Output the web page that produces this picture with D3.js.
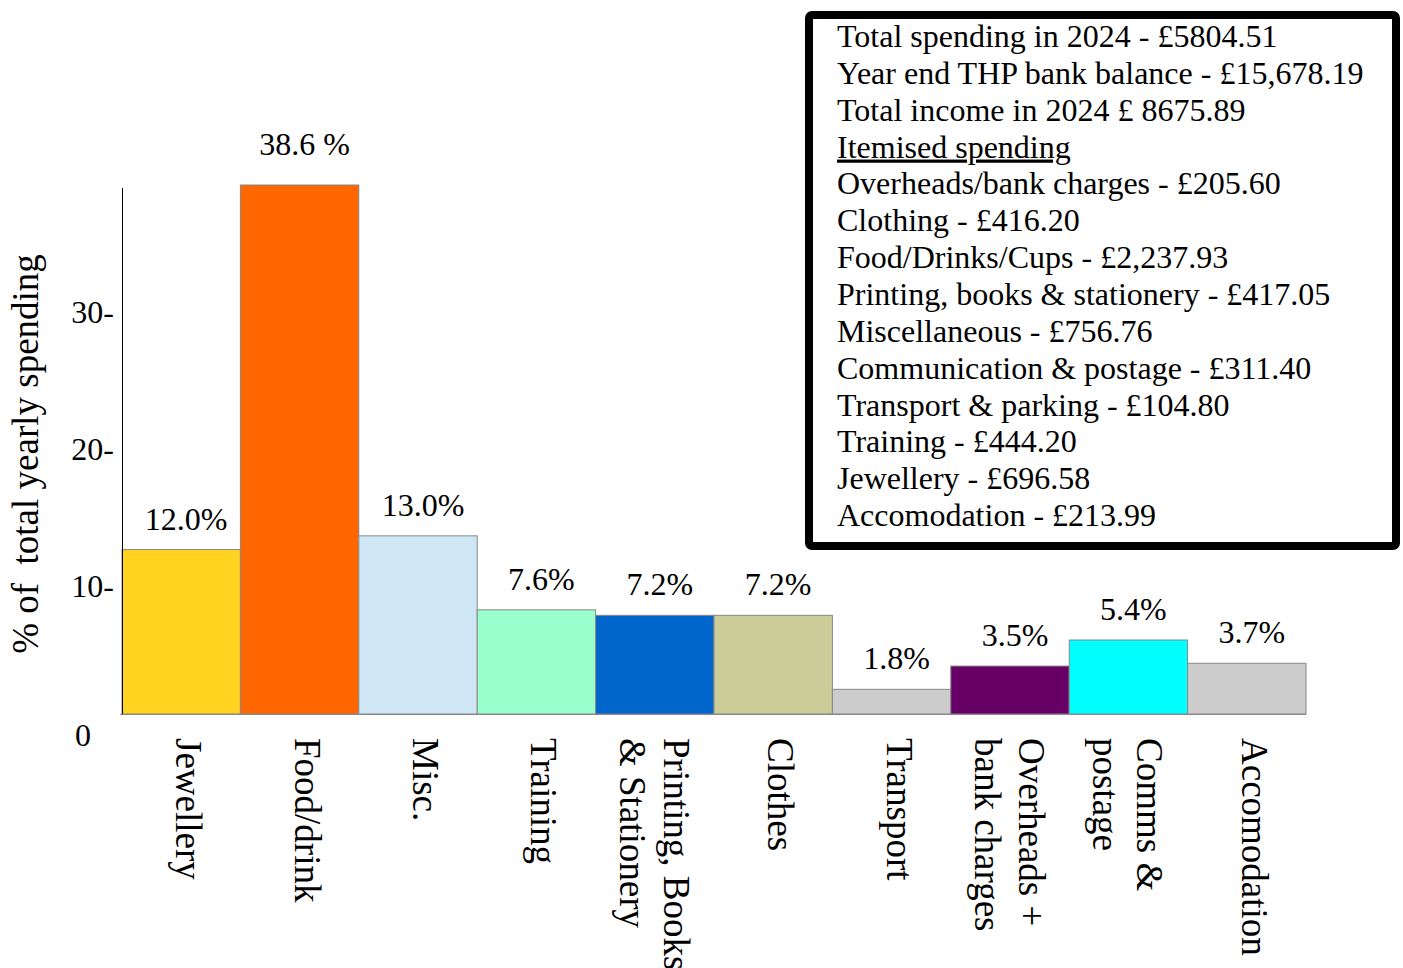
<!DOCTYPE html>
<html>
<head>
<meta charset="utf-8">
<script src="https://cdn.jsdelivr.net/npm/d3@7"></script>
<style>
  html, body { margin: 0; padding: 0; background: #fff; }
  svg { display: block; font-family: "Liberation Serif", "DejaVu Serif", serif; }
</style>
</head>
<body>
<div id="chart"></div>
<script>
// categories (bar order), values in % of yearly spending
const categories = ['Jewellery', 'Food/drink', 'Misc.', 'Training', 'Printing', 'Clothes', 'Transport', 'Overheads', 'Comms', 'Accomodation']
const values = [12.0, 38.6, 13.0, 7.6, 7.2, 7.2, 1.8, 3.5, 5.4, 3.7]
const valueLabels = ['12.0%', '38.6 %', '13.0%', '7.6%', '7.2%', '7.2%', '1.8%', '3.5%', '5.4%', '3.7%']
// axis labels under the bars (one entry per line)
const axisLabels = [
  ['Jewellery'],
  ['Food/drink'],
  ['Misc.'],
  ['Training'],
  ['Printing, Books', '& Stationery'],
  ['Clothes'],
  ['Transport'],
  ['Overheads +', 'bank charges'],
  ['Comms &', 'postage'],
  ['Accomodation']
]
const barColors = ['#ffd320', '#ff6600', '#cfe7f5', '#99ffcc', '#0066cc', '#cccc99', '#cccccc', '#660066', '#00ffff', '#cccccc']
const yTicks = [0, 10, 20, 30]
const yTitle = '% of  total yearly spending'

// legend box text
const legendLines = [
  'Total spending in 2024 - £5804.51',
  'Year end THP bank balance - £15,678.19',
  'Total income in 2024 £ 8675.89',
  'Itemised spending',
  'Overheads/bank charges - £205.60',
  'Clothing - £416.20',
  'Food/Drinks/Cups - £2,237.93',
  'Printing, books & stationery - £417.05',
  'Miscellaneous - £756.76',
  'Communication & postage - £311.40',
  'Transport & parking - £104.80',
  'Training - £444.20',
  'Jewellery - £696.58',
  'Accomodation - £213.99'
]
const underlinedLines = ['Itemised spending']

const width = 1403
const height = 968

const svg = d3.select('#chart')
  .append('svg')
  .attr('width', width)
  .attr('height', height)

// scales
const x = d3.scaleBand()
  .domain(categories)
  .range([122, 1306])
  .paddingInner(0)
  .paddingOuter(0)

const y = d3.scaleLinear()
  .domain([0, 38.6])
  .range([714, 185])

const data = categories.map((c, i) => ({
  cat: c,
  value: values[i],
  label: valueLabels[i],
  axis: axisLabels[i],
  color: barColors[i]
}))

// bars
svg.append('g')
  .selectAll('rect')
  .data(data)
  .join('rect')
  .attr('x', d => x(d.cat))
  .attr('y', d => y(d.value))
  .attr('width', x.bandwidth())
  .attr('height', d => y(0) - y(d.value))
  .attr('fill', d => d.color)
  .attr('stroke', '#888')
  .attr('stroke-width', 1)

// baseline + y axis line
svg.append('line')
  .attr('x1', 120).attr('x2', x.range()[1])
  .attr('y1', y(0) + 0.5).attr('y2', y(0) + 0.5)
  .attr('stroke', '#888')
svg.append('line')
  .attr('x1', 122.5).attr('x2', 122.5)
  .attr('y1', 188).attr('y2', y(0))
  .attr('stroke', '#000')

// y tick labels (drawn like "30-")
svg.append('g')
  .selectAll('text')
  .data(yTicks)
  .join('text')
  .attr('x', d => d ? 114 : 91)
  .attr('y', d => d ? y(d) + 20 : y(d) + 32)
  .attr('text-anchor', 'end')
  .attr('font-size', 32)
  .text(d => d ? d + '-' : '0')

// y title
svg.append('text')
  .attr('transform', `translate(38,454) rotate(-90)`)
  .attr('text-anchor', 'middle')
  .attr('font-size', 37)
  .style('white-space', 'pre')
  .text(yTitle)

// value labels above bars
svg.append('g')
  .selectAll('text')
  .data(data)
  .join('text')
  .attr('x', d => x(d.cat) + x.bandwidth() / 2 + 5)
  .attr('y', d => y(d.value) - (d.value > 30 ? 30 : 20))
  .attr('text-anchor', 'middle')
  .attr('font-size', 32)
  .text(d => d.label)

// rotated category labels
const lineGap = 44
const catLabels = svg.append('g')
  .selectAll('g')
  .data(data)
  .join('g')
  .attr('transform', d => {
    const n = d.axis.length
    const cx = x(d.cat) + x.bandwidth() / 2
    // baseline of the first line is on the left of its glyphs (text runs downward)
    const bx = cx - 5 + (n - 1) * 14
    return `translate(${bx},738) rotate(90)`
  })

catLabels.selectAll('text')
  .data(d => d.axis)
  .join('text')
  .attr('x', 0)
  .attr('y', (d, i) => i * lineGap)
  .attr('font-size', 37)
  .text(d => d)

// legend box
const legend = svg.append('g')
legend.append('rect')
  .attr('x', 809)
  .attr('y', 15)
  .attr('width', 587)
  .attr('height', 531)
  .attr('rx', 3)
  .attr('fill', '#fff')
  .attr('stroke', '#000')
  .attr('stroke-width', 8)

legend.selectAll('text')
  .data(legendLines)
  .join('text')
  .attr('x', 837)
  .attr('y', (d, i) => 47 + i * 36.85)
  .attr('font-size', 32)
  .attr('text-decoration', d => underlinedLines.includes(d) ? 'underline' : null)
  .text(d => d)
</script>
</body>
</html>
